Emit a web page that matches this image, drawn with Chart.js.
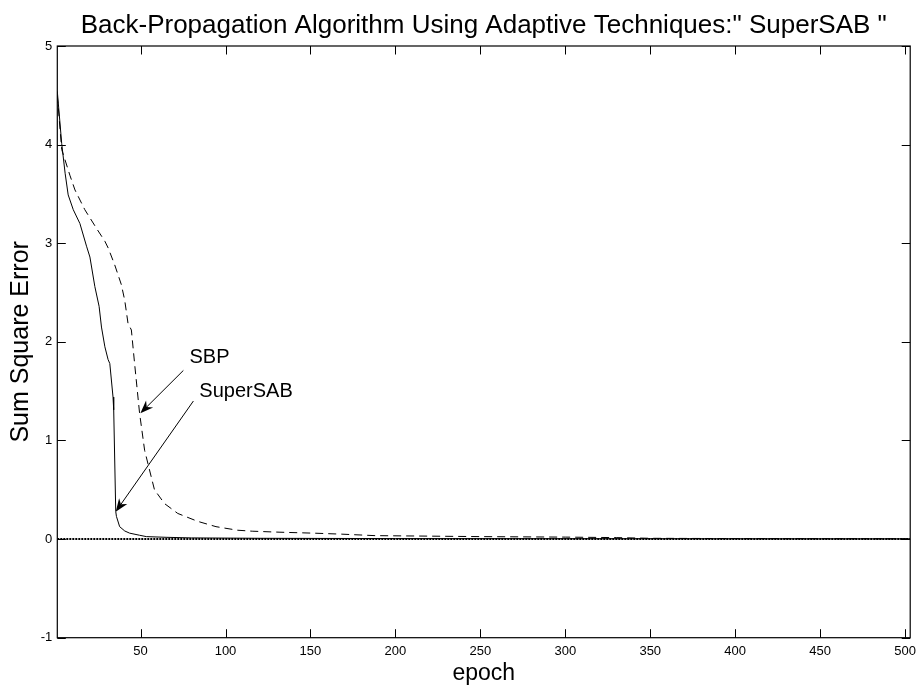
<!DOCTYPE html>
<html><head><meta charset="utf-8">
<script src="https://cdn.jsdelivr.net/npm/chart.js@4.4.1/dist/chart.umd.min.js"></script>
<style>html,body{margin:0;padding:0;background:#fff;}canvas{display:block;}</style>
</head><body>
<canvas id="c" width="922" height="685"></canvas>
<script>
// ---- data ----
const sabEpochs = [1, 3.6, 5.6, 7.4, 10.4, 14.3, 18.2, 20.2, 23.1, 25.6, 27, 29, 30.9, 31.9, 33.8, 34.2, 35.4, 35.8, 37.7, 40.7, 43.6, 49.4, 53.4, 65, 80, 120, 200, 300, 400, 503];
const sabError  = [4.54, 4.01, 3.71, 3.49, 3.34, 3.20, 2.97, 2.86, 2.56, 2.36, 2.15, 1.95, 1.82, 1.78, 1.44, 1.31, 0.28, 0.23, 0.126, 0.082, 0.06, 0.039, 0.025, 0.018, 0.012, 0.008, 0.005, 0.004, 0.003, 0.002];
const sbpEpochs = [1, 3.6, 8.4, 11.4, 17.2, 24.1, 29, 31, 34.8, 38.7, 40.7, 42.6, 44.6, 46.5, 49.4, 52.4, 56.3, 58.2, 64.1, 71.9, 83.6, 94.4, 107, 115.7, 131.5, 152, 168.4, 188, 250, 300, 330, 350, 400, 503];
const sbpError  = [4.5, 3.95, 3.69, 3.54, 3.34, 3.15, 3.02, 2.95, 2.78, 2.58, 2.42, 2.19, 2.12, 1.78, 1.28, 0.90, 0.63, 0.50, 0.36, 0.26, 0.18, 0.126, 0.09, 0.08, 0.07, 0.06, 0.05, 0.035, 0.025, 0.02, 0.015, 0.008, 0.005, 0.003];
const goalEpochs = [1, 503];
const goalError  = [0, 0];
const xTickValues = [50, 100, 150, 200, 250, 300, 350, 400, 450, 500];
const yTickValues = [-1, 0, 1, 2, 3, 4, 5];
const chartTitle = 'Back-Propagation Algorithm Using Adaptive Techniques:" SuperSAB "';
const noteTexts = ['SBP', 'SuperSAB'];
const noteAt    = [[78.8, 1.84], [84.6, 1.50]];
const arrowFrom = [[75.2, 1.71], [81.1, 1.40]];
const arrowTo   = [[49.9, 1.276], [35.4, 0.278]];

const FONT = '"Liberation Sans", Arial, Helvetica, sans-serif';
const pts = (xs, ys) => xs.map((x, i) => ({x, y: ys[i]}));

const framePlugin = {
  id: 'frame',
  afterDatasetsDraw(chart) {
    const {ctx, chartArea: a, scales: {x, y}} = chart;
    const TL = 8.5;
    ctx.save();
    // title, centred over the plot box
    ctx.fillStyle = '#000';
    ctx.font = '26px ' + FONT;
    ctx.textAlign = 'center';
    ctx.textBaseline = 'middle';
    ctx.fillText(chartTitle, (a.left + a.right) / 2, a.top - 20);
    // box + inward ticks
    ctx.strokeStyle = '#000';
    ctx.lineWidth = 1.2;
    ctx.strokeRect(a.left, a.top, a.right - a.left, a.bottom - a.top);
    ctx.lineWidth = 1;
    ctx.beginPath();
    xTickValues.forEach(v => {
      const px = Math.round(x.getPixelForValue(v)) + 0.5;
      ctx.moveTo(px, a.bottom); ctx.lineTo(px, a.bottom - TL);
      ctx.moveTo(px, a.top); ctx.lineTo(px, a.top + TL);
    });
    yTickValues.forEach(v => {
      const py = Math.round(y.getPixelForValue(v)) + 0.5;
      ctx.moveTo(a.left, py); ctx.lineTo(a.left + TL, py);
      ctx.moveTo(a.right, py); ctx.lineTo(a.right - TL, py);
    });
    ctx.stroke();
    // annotations
    ctx.font = '20px ' + FONT;
    ctx.textAlign = 'left';
    ctx.textBaseline = 'middle';
    noteTexts.forEach((t, i) => {
      ctx.fillText(t, x.getPixelForValue(noteAt[i][0]), y.getPixelForValue(noteAt[i][1]));
    });
    arrowFrom.forEach((f, i) => {
      const x0 = x.getPixelForValue(f[0]), y0 = y.getPixelForValue(f[1]);
      const x1 = x.getPixelForValue(arrowTo[i][0]), y1 = y.getPixelForValue(arrowTo[i][1]);
      const ang = Math.atan2(y1 - y0, x1 - x0);
      const L = 13, W = 5, N = 9;
      ctx.beginPath();
      ctx.moveTo(x0, y0);
      ctx.lineTo(x1 - Math.cos(ang) * N, y1 - Math.sin(ang) * N);
      ctx.lineWidth = 1;
      ctx.stroke();
      const bx = x1 - Math.cos(ang) * L, by = y1 - Math.sin(ang) * L;
      const nx = -Math.sin(ang), ny = Math.cos(ang);
      ctx.beginPath();
      ctx.moveTo(x1, y1);
      ctx.lineTo(bx + nx * W, by + ny * W);
      ctx.lineTo(x1 - Math.cos(ang) * N, y1 - Math.sin(ang) * N);
      ctx.lineTo(bx - nx * W, by - ny * W);
      ctx.closePath();
      ctx.fill();
    });
    ctx.restore();
  }
};

new Chart(document.getElementById('c'), {
  type: 'line',
  data: {
    datasets: [
      {label: 'SuperSAB', data: pts(sabEpochs, sabError), borderColor: '#000', borderWidth: 1, pointRadius: 0, tension: 0},
      {label: 'SBP', data: pts(sbpEpochs, sbpError), borderColor: '#000', borderWidth: 1, borderDash: [8, 5], pointRadius: 0, tension: 0},
      {label: 'goal', data: pts(goalEpochs, goalError), borderColor: '#000', borderWidth: 2, borderDash: [2, 1], pointRadius: 0, tension: 0}
    ]
  },
  options: {
    responsive: false,
    animation: false,
    devicePixelRatio: 1,
    layout: {padding: {left: 0, right: 7.7, top: 46, bottom: 0}},
    plugins: {
      legend: {display: false},
      tooltip: {enabled: false},
      title: {display: false}
    },
    scales: {
      x: {
        type: 'linear', min: 1, max: 503,
        afterBuildTicks: s => { s.ticks = xTickValues.map(v => ({value: v})); },
        afterFit: s => { s.height = 47.3; },
        grid: {display: false, drawTicks: false},
        border: {display: false},
        ticks: {color: '#000', font: {family: FONT, size: 13}, padding: 6, maxRotation: 0, autoSkip: false},
        title: {display: true, text: 'epoch', color: '#000', font: {family: FONT, size: 23, lineHeight: 1.0}, padding: {top: 0, bottom: 0}}
      },
      y: {
        type: 'linear', min: -1, max: 5,
        afterBuildTicks: s => { s.ticks = yTickValues.map(v => ({value: v})); },
        afterFit: s => { s.width = 57.3; },
        grid: {display: false, drawTicks: false},
        border: {display: false},
        ticks: {color: '#000', font: {family: FONT, size: 13}, padding: 5},
        title: {display: true, text: 'Sum Square Error', color: '#000', font: {family: FONT, size: 25}, padding: {top: 6, bottom: 0}}
      }
    }
  },
  plugins: [framePlugin]
});
</script>
</body></html>
